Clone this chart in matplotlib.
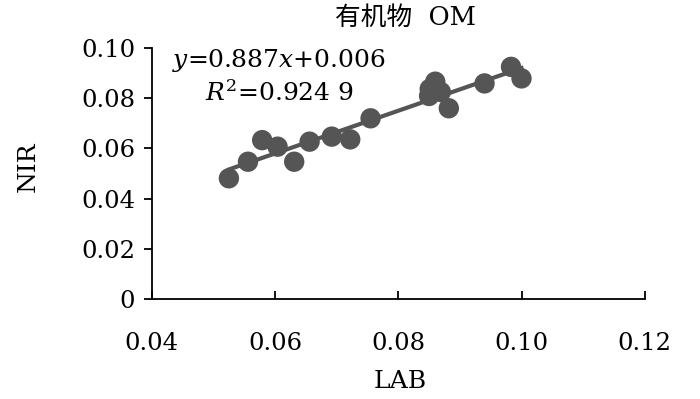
import matplotlib
matplotlib.use("Agg")
import matplotlib.pyplot as plt
import numpy as np

# Data
lab = [0.0525, 0.0556, 0.0579, 0.0604, 0.0631, 0.0656, 0.0692, 0.0722, 0.0755,
       0.0850, 0.0851, 0.0860, 0.0869, 0.0882, 0.0940, 0.0983, 0.1000]
nir = [0.0481, 0.0547, 0.0633, 0.0607, 0.0547, 0.0627, 0.0647, 0.0636, 0.0720,
       0.0809, 0.0837, 0.0866, 0.0825, 0.0760, 0.0859, 0.0925, 0.0879]
x_ticks = [0.04, 0.06, 0.08, 0.10, 0.12]
x_tick_labels = ["0.04", "0.06", "0.08", "0.10", "0.12"]
y_ticks = [0, 0.02, 0.04, 0.06, 0.08, 0.10]
y_tick_labels = ["0", "0.02", "0.04", "0.06", "0.08", "0.10"]
title = "有机物  OM"
eq_text = "$y$=0.887$x$+0.006"
r2_text = "$R^2$=0.924 9"

plt.rcParams['font.family'] = ['DejaVu Serif', 'Noto Sans CJK SC']
plt.rcParams['mathtext.fontset'] = 'dejavuserif'

fig = plt.figure(figsize=(7, 3.99), dpi=100)
ax = fig.add_axes([0.217, 0.2506, 0.704, 0.629])

color = '#555555'
x = np.array(lab)
y = np.array(nir)
k, b = np.polyfit(x, y, 1)
xs = np.array([x.min(), x.max()])
ax.plot(xs, k * xs + b, color=color, lw=3, zorder=2)
ax.scatter(x, y, s=215, color=color, edgecolors='none', zorder=3)

ax.set_xlim(0.04, 0.12)
ax.set_ylim(0, 0.10)
ax.set_xticks(x_ticks)
ax.set_xticklabels(x_tick_labels)
ax.set_yticks(y_ticks)
ax.set_yticklabels(y_tick_labels)
ax.tick_params(axis='x', direction='in', length=6, width=1.3, labelsize=17.5, pad=24)
ax.tick_params(axis='y', direction='out', length=6, width=1.3, labelsize=17.5, pad=6)
for s in ['top', 'right']:
    ax.spines[s].set_visible(False)
for s in ['left', 'bottom']:
    ax.spines[s].set_linewidth(1.3)
    ax.spines[s].set_color('black')

ax.set_xlabel("LAB", fontsize=18)
ax.set_ylabel("NIR", fontsize=18)
ax.xaxis.set_label_coords(0.503, -0.283)
ax.yaxis.set_label_coords(-0.227, 0.526)
fig.text(0.579, 0.955, title, ha='center', va='center', fontsize=18.5)

ax.text(0.258, 0.952, eq_text, transform=ax.transAxes, ha='center', va='center', fontsize=18)
ax.text(0.258, 0.82, r2_text, transform=ax.transAxes, ha='center', va='center', fontsize=18)

fig.savefig("out.png", dpi=100)
